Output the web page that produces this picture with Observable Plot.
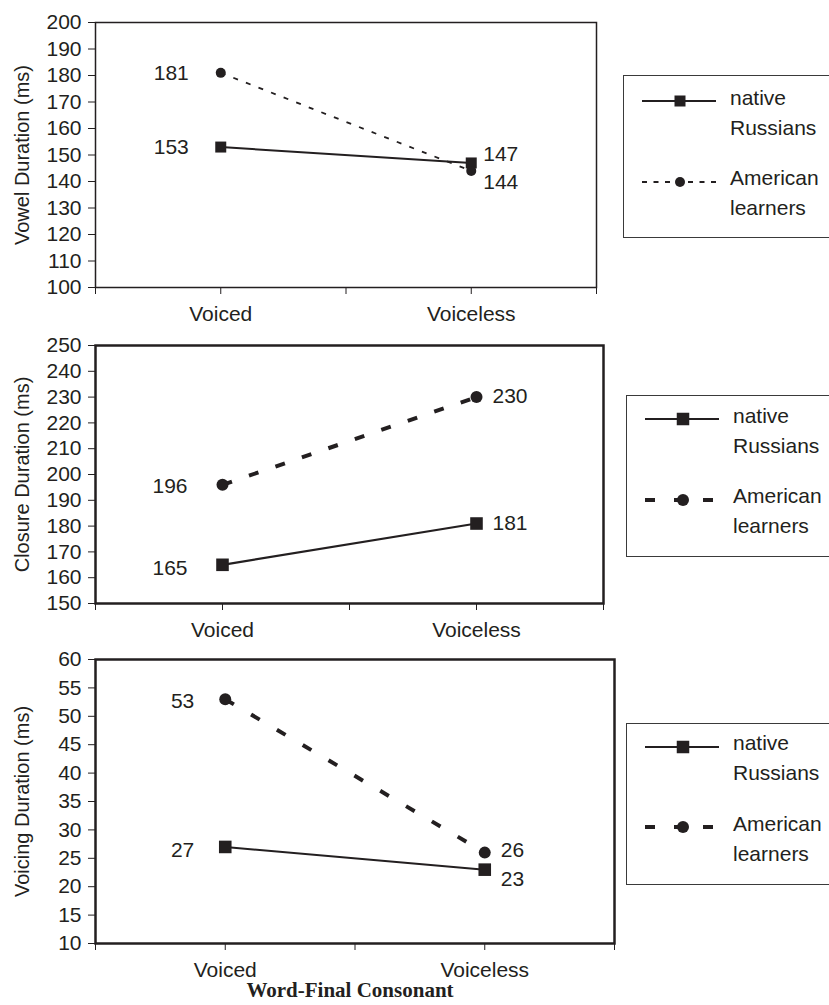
<!DOCTYPE html>
<html>
<head>
<meta charset="utf-8">
<script src="https://cdn.jsdelivr.net/npm/d3@7"></script>
<script src="https://cdn.jsdelivr.net/npm/@observablehq/plot@0.6"></script>
<style>
  html, body { margin: 0; padding: 0; background: #fff; }
  #chart { position: relative; width: 829px; height: 1005px; overflow: hidden; background: #fff; }
  #chart > svg, #chart > .legend { position: absolute; }
  .legend { box-sizing: border-box; border: 1.5px solid #3a3a3a; background: #fff; }
</style>
</head>
<body>
<div id="chart"></div>
<script>
// ---- data ----
const categories = ["Voiced", "Voiceless"];
const seriesNames = ["native Russians", "American learners"];
const legendLines = [["native", "Russians"], ["American", "learners"]];

const vowelNative = [153, 147];
const vowelAmerican = [181, 144];
const closureNative = [165, 181];
const closureAmerican = [196, 230];
const voicingNative = [27, 23];
const voicingAmerican = [53, 26];

const vowelTicks = [100, 110, 120, 130, 140, 150, 160, 170, 180, 190, 200];
const closureTicks = [150, 160, 170, 180, 190, 200, 210, 220, 230, 240, 250];
const voicingTicks = [10, 15, 20, 25, 30, 35, 40, 45, 50, 55, 60];

const yLabels = ["Vowel Duration (ms)", "Closure Duration (ms)", "Voicing Duration (ms)"];
const xTitle = "Word-Final Consonant";

// ---- helpers ----
const INK = "#231f20";
const SANS = "'Liberation Sans', Arial, sans-serif";
const FS = 21;

function rows(values, series) {
  return values.map((v, i) => ({category: categories[i], pos: 2 * i + 1, value: v, series}));
}

function panel(cfg) {
  const nat = rows(cfg.native, seriesNames[0]);
  const am = rows(cfg.american, seriesNames[1]);
  const labelMarks = [];
  [[nat, cfg.natLabels], [am, cfg.amLabels]].forEach(([data, offs]) => {
    data.forEach((d, i) => {
      const [anchor, dx, dy] = offs[i];
      labelMarks.push(Plot.text([d], {
        x: "pos", y: "value", text: d => String(d.value),
        textAnchor: anchor, dx, dy, fill: INK, fontSize: FS
      }));
    });
  });
  const extra = [];
  if (cfg.title) {
    extra.push(Plot.text([cfg.title], {
      frameAnchor: "bottom", dy: 53, dx: -5, fill: INK,
      fontFamily: "'Liberation Serif', 'Times New Roman', serif",
      fontWeight: "bold", fontSize: 21
    }));
  }
  return Plot.plot({
    width: 829,
    height: cfg.height,
    marginLeft: 95,
    marginRight: cfg.marginRight,
    marginTop: cfg.marginTop,
    marginBottom: cfg.marginBottom,
    style: {fontFamily: SANS, fontSize: FS + "px", color: INK, background: "transparent", overflow: "visible"},
    x: {domain: [0, 4], ticks: [0, 1, 2, 3, 4],
        tickFormat: d => (d % 2 ? categories[(d - 1) / 2] : ""),
        tickSize: 7, tickPadding: 12, label: null},
    y: {domain: cfg.yDomain, ticks: cfg.yTicks, tickSize: 7, tickPadding: 7, label: null},
    marks: [
      Plot.frame({stroke: INK, strokeWidth: cfg.frameWidth}),
      Plot.text([cfg.ylabel], {
        frameAnchor: "left", dx: -73, rotate: -90, textAnchor: "middle",
        fill: INK, fontSize: 20
      }),
      Plot.line(nat, {x: "pos", y: "value", stroke: INK, strokeWidth: cfg.natWidth}),
      Plot.line(am, {x: "pos", y: "value", stroke: INK, strokeWidth: cfg.amWidth,
                     strokeDasharray: cfg.dash, strokeLinecap: "butt"}),
      Plot.dot(nat, {x: "pos", y: "value", symbol: "square", r: cfg.rSq, fill: INK, stroke: "none"}),
      Plot.dot(am, {x: "pos", y: "value", symbol: "circle", r: cfg.rCi, fill: INK, stroke: "none"}),
      ...labelMarks,
      ...extra
    ]
  });
}

function legend(cfg) {
  const div = document.createElement("div");
  div.className = "legend";
  Object.assign(div.style, {left: cfg.left + "px", top: cfg.top + "px",
    width: "240px", height: cfg.height + "px"});
  const svg = d3.select(div).append("svg")
    .attr("width", 240).attr("height", cfg.height)
    .style("position", "absolute").style("left", "-1.5px").style("top", "-1.5px")
    .style("font-family", SANS).style("font-size", FS + "px");
  const items = [
    {y: cfg.lineY[0], dash: null, w: cfg.natWidth, sym: "square"},
    {y: cfg.lineY[1], dash: cfg.dash, w: cfg.amWidth, sym: "circle"}
  ];
  items.forEach((it, k) => {
    svg.append("line").attr("x1", 19).attr("x2", 93).attr("y1", it.y).attr("y2", it.y)
      .attr("stroke", INK).attr("stroke-width", it.w)
      .attr("stroke-dasharray", it.dash);
    if (it.sym === "square") {
      const s = cfg.sq;
      svg.append("rect").attr("x", 57 - s / 2).attr("y", it.y - s / 2)
        .attr("width", s).attr("height", s).attr("fill", INK);
    } else {
      svg.append("circle").attr("cx", 57).attr("cy", it.y).attr("r", cfg.ci).attr("fill", INK);
    }
    legendLines[k].forEach((t, j) => {
      svg.append("text").attr("x", 107).attr("y", cfg.textY[k] + j * 30)
        .attr("fill", INK).text(t);
    });
  });
  return div;
}

const chart = document.getElementById("chart");

const panels = [
  {top: 0, height: 330, marginTop: 22, marginBottom: 43, marginRight: 233,
   native: vowelNative, american: vowelAmerican, yDomain: [100, 200], yTicks: vowelTicks,
   ylabel: yLabels[0], frameWidth: 1.5, natWidth: 2, amWidth: 1.8, dash: "5,8.5",
   rSq: 6.2, rCi: 5,
   natLabels: [["end", -32, 0], ["start", 12, -9]],
   amLabels: [["end", -32, 0], ["start", 12, 11]]},
  {top: 330, height: 320, marginTop: 15, marginBottom: 47, marginRight: 226,
   native: closureNative, american: closureAmerican, yDomain: [150, 250], yTicks: closureTicks,
   ylabel: yLabels[1], frameWidth: 2.5, natWidth: 2.2, amWidth: 4, dash: "10,18",
   rSq: 7.1, rCi: 6,
   natLabels: [["end", -35, 3], ["start", 16, 0]],
   amLabels: [["end", -35, 1], ["start", 16, -1]]},
  {top: 650, height: 355, marginTop: 9, marginBottom: 62, marginRight: 215,
   native: voicingNative, american: voicingAmerican, yDomain: [10, 60], yTicks: voicingTicks,
   ylabel: yLabels[2], frameWidth: 2.5, natWidth: 2, amWidth: 4, dash: "10,20",
   rSq: 7.1, rCi: 6, title: xTitle,
   natLabels: [["end", -31, 3], ["start", 16, 10]],
   amLabels: [["end", -31, 2], ["start", 16, -2]]}
];

const legends = [
  {left: 623, top: 75, height: 163, lineY: [26, 107], textY: [30, 110],
   natWidth: 2, amWidth: 1.8, dash: "5,6.5", sq: 11, ci: 5},
  {left: 626, top: 395, height: 162, lineY: [24, 105], textY: [28, 108],
   natWidth: 2.2, amWidth: 4, dash: "10,19", sq: 12.5, ci: 6},
  {left: 626, top: 723, height: 162, lineY: [24, 104], textY: [27, 108],
   natWidth: 2, amWidth: 4, dash: "10,19", sq: 12.5, ci: 6}
];

panels.forEach((cfg, i) => {
  const svg = panel(cfg);
  svg.style.left = "0px";
  svg.style.top = cfg.top + "px";
  svg.style.position = "absolute";
  chart.appendChild(svg);
  chart.appendChild(legend(legends[i]));
});
</script>
</body>
</html>
